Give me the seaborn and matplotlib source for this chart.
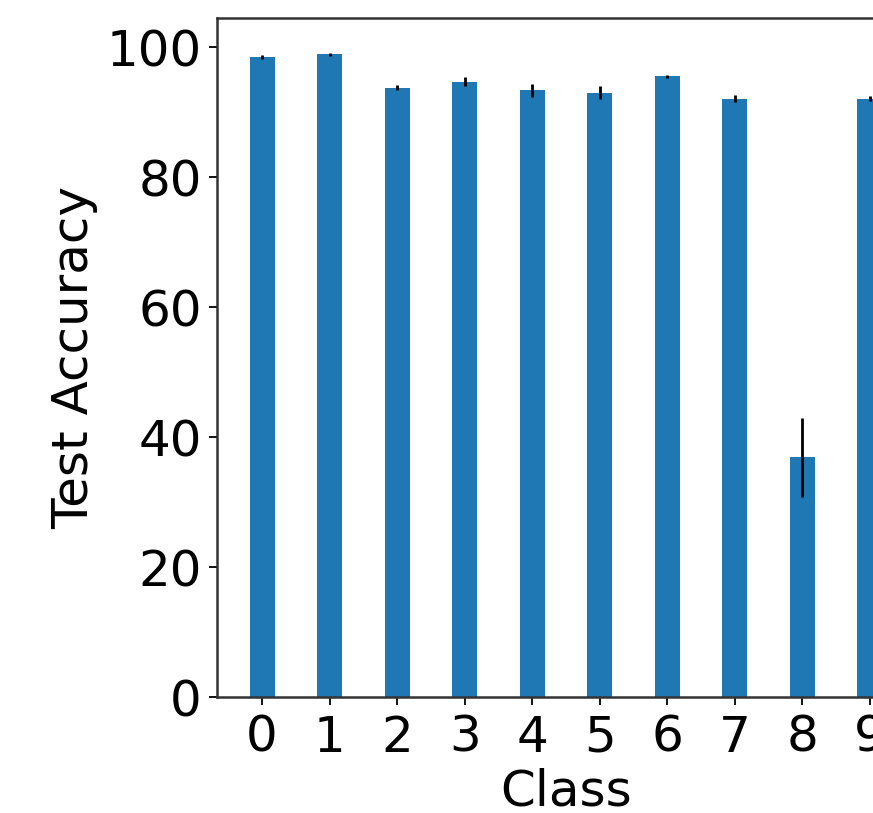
import matplotlib
matplotlib.use("Agg")
import matplotlib.pyplot as plt
import numpy as np
import pandas as pd
import seaborn as sns

# per-class test accuracy (mean and spread across runs)
classes = ["0", "1", "2", "3", "4", "5", "6", "7", "8", "9"]
accuracy = [98.5, 98.9, 93.8, 94.7, 93.4, 93.0, 95.5, 92.1, 36.9, 92.1]
spread = [0.3, 0.2, 0.4, 0.7, 1.0, 1.0, 0.2, 0.5, 6.1, 0.4]

df = pd.DataFrame({"Class": classes, "Test Accuracy": accuracy})

plt.rcParams["font.family"] = ["DejaVu Sans"]
plt.rcParams["font.size"] = 36

fig = plt.figure(figsize=(8.73, 8.13), dpi=100)
# the original figure is cut off on the right, so the axes run past the canvas
ax = fig.add_axes([217 / 873, 116 / 813, 698 / 873, 679 / 813])

sns.barplot(data=df, x="Class", y="Test Accuracy", color="#1f77b4",
            saturation=1, width=0.37, errorbar=None, ax=ax)
ax.errorbar(np.arange(len(classes)), accuracy, yerr=spread, fmt="none",
            ecolor="black", elinewidth=2, capsize=0)

ax.set_xlim(-0.667, 9.667)
ax.set_ylim(0, 104.5)
ax.set_yticks([0, 20, 40, 60, 80, 100])
ax.set_xlabel("Class", fontsize=36, labelpad=4)
ax.set_ylabel("Test Accuracy", fontsize=36, labelpad=6)
ax.tick_params(labelsize=36, width=1.3, length=6, pad=5)
ax.tick_params(axis="x", pad=6)
for s in ax.spines.values():
    s.set_linewidth(1.8)
    s.set_color("#333333")

fig.savefig("out.png", dpi=100)
